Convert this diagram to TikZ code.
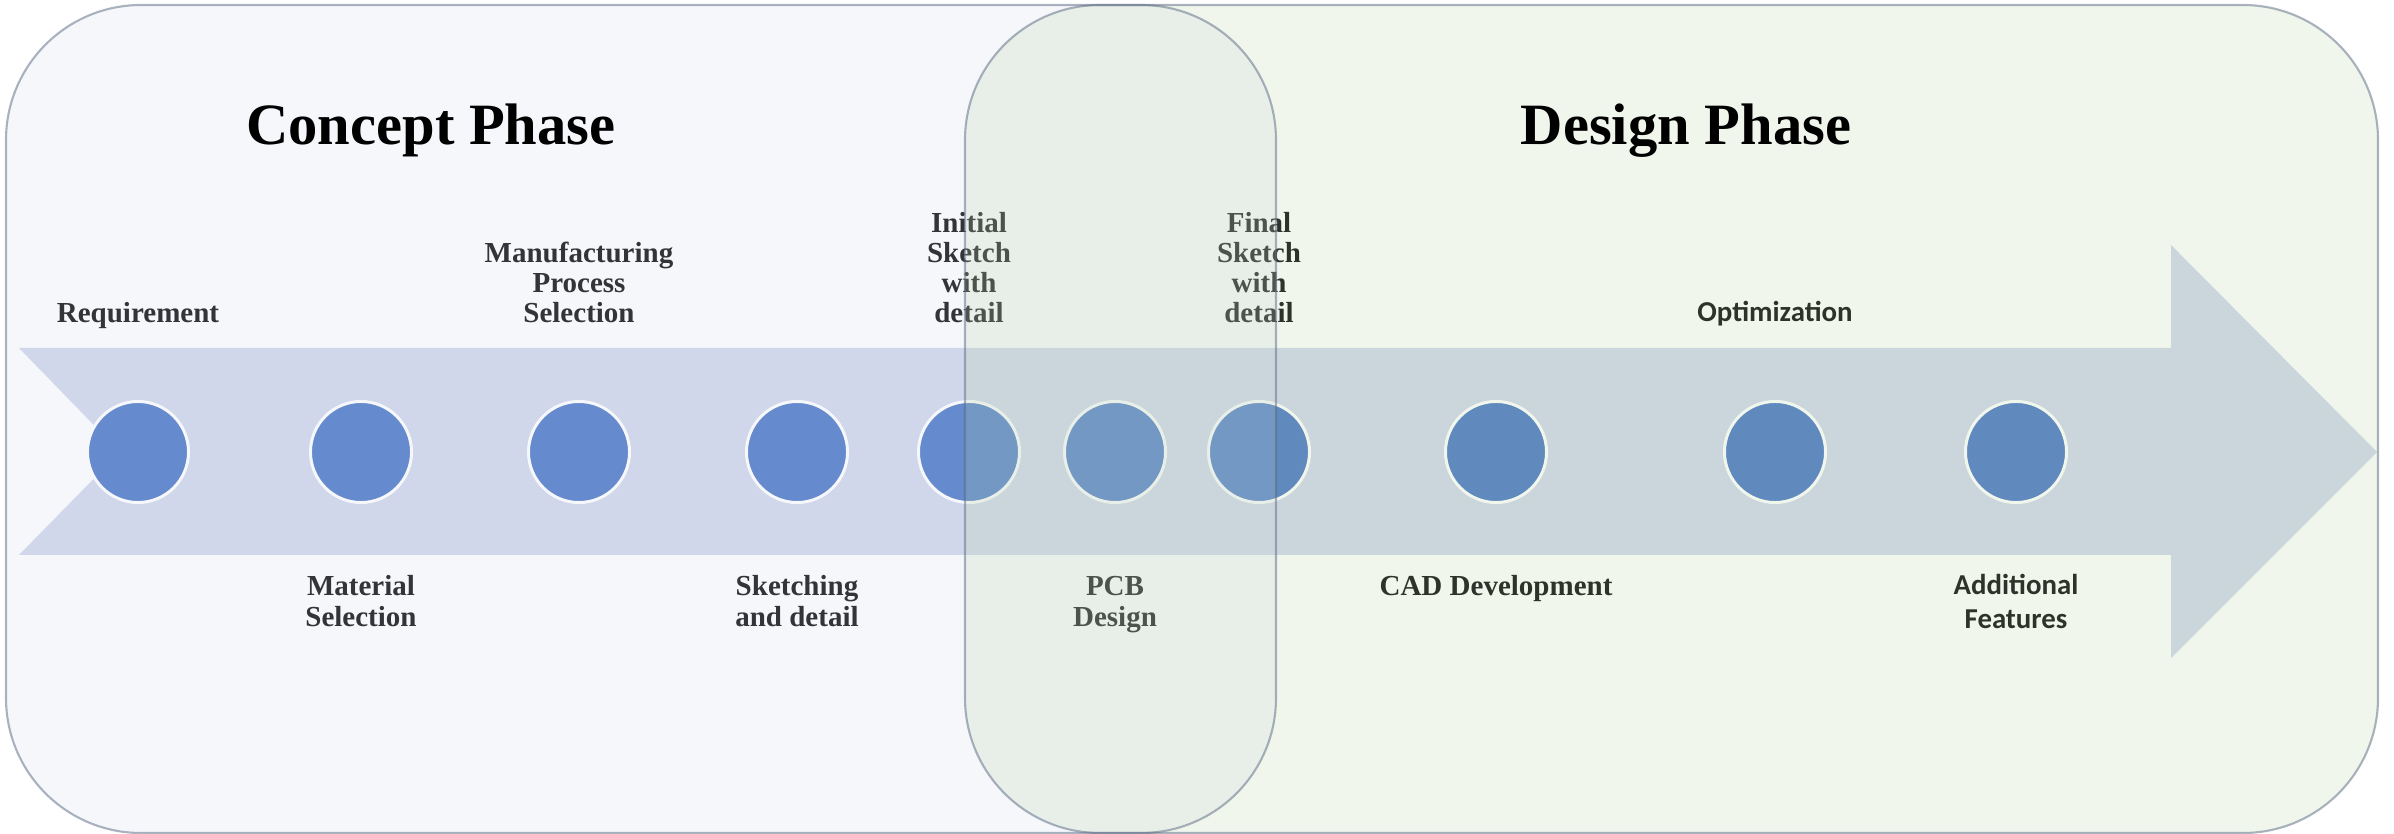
\documentclass[tikz,border=0pt]{standalone}
\usepackage{fontspec}
\setmainfont{Liberation Serif}
\newfontfamily\calibfont{Carlito}
\definecolor{arrowfill}{RGB}{209,215,235}
\definecolor{dotfill}{RGB}{76,119,198}
\definecolor{conceptwash}{RGB}{205,215,235}
\definecolor{designwash}{RGB}{180,210,160}
\definecolor{boxline}{RGB}{90,105,130}
\definecolor{labtext}{RGB}{12,12,12}

% stacked labels: baseline on the last line (above the band) or the first line (below it)
\newcommand\stackup[1]{\begin{tabular}[b]{@{}c@{}}#1\end{tabular}}
\newcommand\stackdown[1]{\begin{tabular}[t]{@{}c@{}}#1\end{tabular}}

\begin{document}
\begin{tikzpicture}[x=0.01cm,y=-0.01cm,
  dot/.style={circle,draw=white,line width=0.85pt,fill=dotfill,minimum size=1.01cm,inner sep=0pt},
  lab/.style={inner sep=0pt,anchor=base,text=labtext,font=\fontsize{8.25}{8.54}\selectfont\bfseries},
  slab/.style={inner sep=0pt,anchor=base,text=labtext,font=\fontsize{8.2}{9.39}\selectfont\calibfont\bfseries},
  phasetitle/.style={inner sep=0pt,anchor=base,font=\fontsize{16.65}{20}\selectfont\bfseries},
  wash/.style={rounded corners=1.35cm,fill opacity=0.2},
  phaseedge/.style={rounded corners=1.35cm,line width=0.6pt,draw=boxline,draw opacity=0.5}
]
\useasboundingbox (0,0) rectangle (2394,834);

% timeline band with notched tail and arrow head
\fill[arrowfill] (19,348) -- (2171,348) -- (2171,245) -- (2377,452) -- (2171,658)
  -- (2171,555) -- (19,555) -- (120,452) -- cycle;

% milestones
\node[dot] (c1)  at (138,452)  {};
\node[dot] (c2)  at (361,452)  {};
\node[dot] (c3)  at (579,452)  {};
\node[dot] (c4)  at (797,452)  {};
\node[dot] (c5)  at (969,452)  {};
\node[dot] (c6)  at (1115,452) {};
\node[dot] (c7)  at (1259,452) {};
\node[dot] (c8)  at (1496,452) {};
\node[dot] (c9)  at (1775,452) {};
\node[dot] (c10) at (2016,452) {};

% milestone labels
\node[lab] (l1)  at (138,323)  {\stackup{Requirement}};
\node[lab] (l2)  at (361,596)  {\stackdown{Material\\Selection}};
\node[lab] (l3)  at (579,323)  {\stackup{Manufacturing\\Process\\Selection}};
\node[lab] (l4)  at (797,596)  {\stackdown{Sketching\\and detail}};
\node[lab] (l5)  at (969,323)  {\stackup{Initial\\Sketch\\with\\detail}};
\node[lab] (l6)  at (1115,596) {\stackdown{PCB\\Design}};
\node[lab] (l7)  at (1259,323) {\stackup{Final\\Sketch\\with\\detail}};
\node[lab] (l8)  at (1496,596) {\stackdown{CAD Development}};
\node[slab] (l9) at (1775,322) {\stackup{Optimization}};
\node[slab] (l10) at (2016,595) {\stackdown{Additional\\Features}};

% translucent phase panels laid over the timeline
\fill[conceptwash,wash] (6,5) rectangle (1276,833);
\fill[designwash,wash] (965,5) rectangle (2378,833);
\draw[phaseedge] (6,5) rectangle (1276,833);
\draw[phaseedge] (965,5) rectangle (2378,833);

% phase titles
\node[phasetitle] (t1) at (431,145)  {Concept Phase};
\node[phasetitle] (t2) at (1686,145) {Design Phase};
\end{tikzpicture}
\end{document}
